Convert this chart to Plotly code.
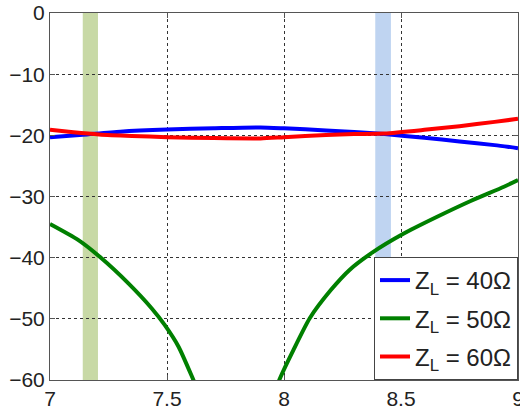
import plotly.graph_objects as go

# Frequency axis values (GHz) and curves
x_blue = [7.0, 7.14, 7.3, 7.5, 7.7, 7.9, 8.0, 8.18, 8.3, 8.43, 8.6, 8.75, 8.9, 9.0]
y_blue = [-20.3, -19.9, -19.4, -19.05, -18.85, -18.7, -18.85, -19.2, -19.45, -19.8, -20.4, -21.0, -21.6, -22.1]

x_red = [7.0, 7.1, 7.21, 7.35, 7.5, 7.7, 7.9, 8.0, 8.18, 8.3, 8.43, 8.6, 8.75, 8.9, 9.0]
y_red = [-19.1, -19.5, -19.85, -20.1, -20.3, -20.45, -20.5, -20.3, -19.95, -19.8, -19.7, -19.1, -18.5, -17.8, -17.3]

x_green = [7.0, 7.12, 7.22, 7.335, 7.435, 7.49, 7.55, 7.613, 7.63, None,
           7.977, 7.983, 8.04, 8.11, 8.2, 8.28, 8.38, 8.51, 8.65, 8.8, 8.94, 9.0]
y_green = [-34.5, -37.1, -40.1, -44.2, -48.3, -51.0, -54.6, -60.0, -61.5, None,
           -60.3, -59.7, -55.1, -49.9, -45.3, -42.0, -39.1, -36.1, -33.4, -30.7, -28.4, -27.3]

bands = [(7.14, 7.205, "rgba(190,210,150,0.85)"), (8.39, 8.457, "rgba(180,205,238,0.85)")]

x_ticks = [7, 7.5, 8, 8.5, 9]
x_tick_labels = ["7", "7.5", "8", "8.5", "9"]
y_ticks = [0, -10, -20, -30, -40, -50, -60]

line_style = dict(width=4, shape="spline", smoothing=0.6)

fig = go.Figure()
fig.add_trace(go.Scatter(x=x_blue, y=y_blue, mode="lines", name="Z<sub>L</sub> = 40Ω", legendgroup="a",
                         line=dict(color="#0000ff", **line_style)))
fig.add_trace(go.Scatter(x=x_green, y=y_green, mode="lines", name="Z<sub>L</sub> = 50Ω", legendgroup="b",
                         line=dict(color="#008000", **line_style), connectgaps=False))
fig.add_trace(go.Scatter(x=x_red, y=y_red, mode="lines", name="Z<sub>L</sub> = 60Ω", legendgroup="c",
                         line=dict(color="#ff0000", **line_style)))

for x0, x1, c in bands:
    fig.add_vrect(x0=x0, x1=x1, fillcolor=c, line_width=0, layer="below")

axis_common = dict(
    showline=True, linecolor="#555555", linewidth=1, mirror="allticks",
    ticks="inside", ticklen=5, tickcolor="#555555",
    showgrid=True, gridcolor="#333333", griddash="dot", gridwidth=1,
    zeroline=False, ticklabeloverflow="allow", automargin=False,
    tickfont=dict(family="Liberation Sans, Arial", size=21, color="#222222"),
)

fig.update_layout(
    width=520, height=412,
    margin=dict(l=50, r=2, t=13, b=32),
    paper_bgcolor="white", plot_bgcolor="white",
    xaxis=dict(range=[7, 9], tickvals=x_ticks, ticktext=x_tick_labels, **axis_common),
    yaxis=dict(range=[-60, 0], tickvals=y_ticks, **axis_common),
    legend=dict(x=1, y=0, xanchor="right", yanchor="bottom",
                bgcolor="white", bordercolor="#444444", borderwidth=1,
                font=dict(family="Liberation Sans, Arial", size=24, color="#222222"),
                tracegroupgap=4),
    showlegend=True,
)

fig.write_html("out.html", config={"displayModeBar": False},
               post_script="document.body.style.margin='0';document.body.style.overflow='hidden';")
